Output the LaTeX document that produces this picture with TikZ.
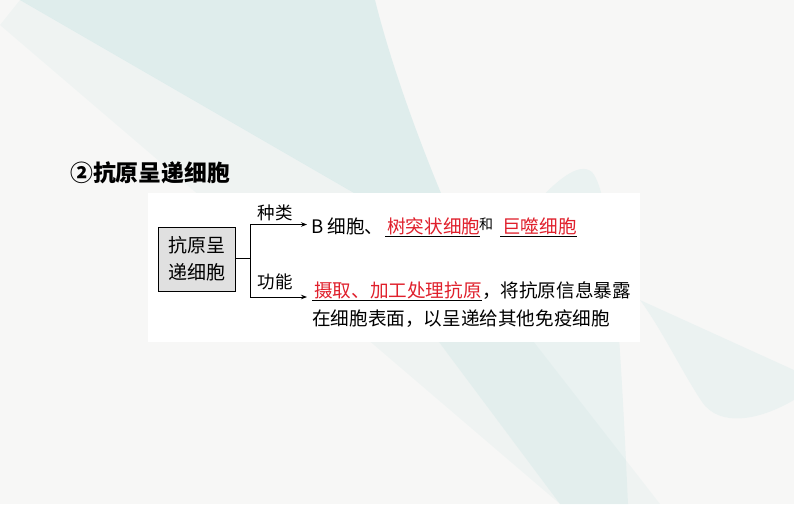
\documentclass[tikz,border=0pt]{standalone}
\usepackage{fontspec}
\setmainfont{Noto Sans CJK SC}
\usetikzlibrary{arrows.meta,positioning}
\definecolor{paper}{HTML}{F7F7F6}
\definecolor{tealbg}{HTML}{A9D8D8}
\definecolor{ansred}{HTML}{E0202C}
\definecolor{boxgray}{HTML}{E0E0E0}

\begin{document}
\begin{tikzpicture}[x=1pt,y=-1pt,
  txt/.style={font=\fontsize{18.6}{22}\selectfont, inner sep=0pt, anchor=base west},
  ans/.style={txt, text=ansred},
  tag/.style={font=\fontsize{17.5}{20}\selectfont, inner sep=0pt},
  uline/.style={line width=0.8pt},
  link/.style={line width=0.8pt},
  arr/.style={link, -{Stealth[length=6pt,width=4.5pt]}}]
\useasboundingbox (0,0) rectangle (794,504);
% background
\fill[paper] (0,0) rectangle (794,504);
\fill[tealbg, opacity=0.3] (20,0) -- (375,0) .. controls (390,60) and (420,150) .. (470,260) -- cycle;
\fill[tealbg, opacity=0.1] (0,25) -- (20,0) -- (470,260) -- (660,504) -- (560,504) -- cycle;
\fill[tealbg, opacity=0.16] (430,330) .. controls (500,250) and (565,150) .. (592,172) .. controls (612,195) and (620,330) .. (628,504) -- (560,504) -- cycle;
\fill[tealbg, opacity=0.14] (640,300) -- (794,370) -- (794,400) .. controls (760,420) and (720,428) .. (702,402) .. controls (682,372) and (662,330) .. cycle;
\fill[white] (148,193) rectangle (640,342);
% title
\node[anchor=base west, inner sep=0pt, font=\bfseries\fontsize{22.8}{26}\selectfont] (title) at (70,181) {②抗原呈递细胞};
% diagram
\node[draw, fill=boxgray, line width=0.8pt, minimum width=77pt, minimum height=64pt,
  align=center, font=\fontsize{19}{27}\selectfont] (apc) at (196.5,259) {抗原呈\\递细胞};
\coordinate (fork) at (250,258.5);
\coordinate (kind) at (307,224.5);
\coordinate (role) at (307,297);
\draw[link] (apc.east |- fork) -- (fork);
\draw[arr] (fork) |- (kind);
\draw[arr] (fork) |- (role);
\node[tag] (kindlbl) at (275,212.5) {种类};
\node[tag] (rolelbl) at (275,282) {功能};
% kinds
\node[txt] (cellB) at (311,233.5) {B 细胞、};
\node[ans] (dend) at (387,233.5) {树突状细胞};
\node[txt, font=\fontsize{14}{16}\selectfont] (andw) at (479,229.5) {和};
\node[ans] (macro) at (502,233.5) {巨噬细胞};
\draw[uline] ([xshift=-2pt,yshift=-3pt]dend.base west) -- ([yshift=-3pt]dend.base east);
\draw[uline] ([xshift=-2pt,yshift=-3pt]macro.base west) -- ([yshift=-3pt]macro.base east);
% function
\node[ans] (uptake) at (314,297) {摄取、加工处理抗原};
\node[txt] (expose) at (uptake.base east) {，将抗原信息暴露};
\node[txt] (present) at (312,325.5) {在细胞表面，以呈递给其他免疫细胞};
\draw[uline] ([xshift=-2pt,yshift=-3pt]uptake.base west) -- ([yshift=-3pt]uptake.base east);
\end{tikzpicture}
\end{document}
